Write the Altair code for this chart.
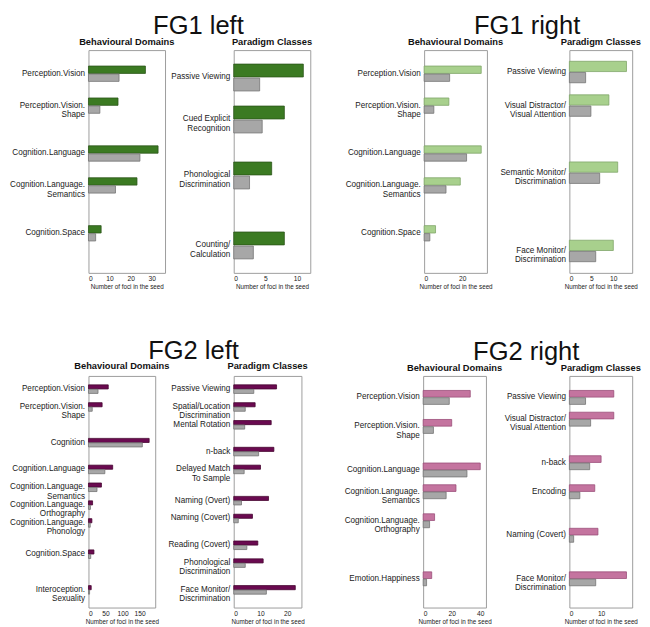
import altair as alt
import pandas as pd

FONT = "Liberation Sans"
AXIS_TITLE = "Number of foci in the seed"
GRAY_FILL = "#a7a7a7"
GRAY_STROKE = "#737373"

# ---------------- FG1 left ----------------
fg1l_bd_cats = ["Perception.Vision", "Perception.Vision.\nShape", "Cognition.Language",
                "Cognition.Language.\nSemantics", "Cognition.Space"]
fg1l_bd_obs = [27, 14, 33, 23, 6]
fg1l_bd_exp = [14.5, 5.4, 24.4, 12.8, 3.4]
fg1l_bd_ticks = [0, 10, 20, 30]

fg1l_pc_cats = ["Passive Viewing", "Cued Explicit\nRecognition", "Phonological\nDiscrimination",
                "Counting/\nCalculation"]
fg1l_pc_obs = [11, 8, 6, 8]
fg1l_pc_exp = [4.1, 4.5, 2.5, 3.1]
fg1l_pc_ticks = [0, 5, 10]

# ---------------- FG1 right ----------------
fg1r_bd_cats = ["Perception.Vision", "Perception.Vision.\nShape", "Cognition.Language",
                "Cognition.Language.\nSemantics", "Cognition.Space"]
fg1r_bd_obs = [30, 13, 30, 19, 6]
fg1r_bd_exp = [13.4, 5.1, 22.3, 11.5, 3.0]
fg1r_bd_ticks = [0, 20]

fg1r_pc_cats = ["Passive Viewing", "Visual Distractor/\nVisual Attention",
                "Semantic Monitor/\nDiscrimination", "Face Monitor/\nDiscrimination"]
fg1r_pc_obs = [13, 9, 11, 10]
fg1r_pc_exp = [3.7, 4.9, 6.9, 6.0]
fg1r_pc_ticks = [0, 5, 10]

# ---------------- FG2 left ----------------
fg2l_bd_cats = ["Perception.Vision", "Perception.Vision.\nShape", "Cognition", "Cognition.Language",
                "Cognition.Language.\nSemantics", "Cognition.Language.\nOrthography",
                "Cognition.Language.\nPhonology", "Cognition.Space", "Interoception.\nSexuality"]
fg2l_bd_obs = [58, 40, 178, 71, 38, 12, 10, 16, 8]
fg2l_bd_exp = [28, 11, 158, 48, 25, 5.7, 5.2, 6.6, 3.2]
fg2l_bd_ticks = [0, 50, 100, 150]

fg2l_pc_cats = ["Passive Viewing", "Spatial/Location\nDiscrimination", "Mental Rotation", "n-back",
                "Delayed Match\nTo Sample", "Naming (Overt)", "Naming (Covert)", "Reading (Covert)",
                "Phonological\nDiscrimination", "Face Monitor/\nDiscrimination"]
fg2l_pc_obs = [16, 8, 14, 15, 10, 13, 7, 9, 11, 23]
fg2l_pc_exp = [7.5, 4.3, 4.1, 9.3, 3.9, 2.9, 1.7, 4.9, 4.3, 12.2]
fg2l_pc_ticks = [0, 10, 20]

# ---------------- FG2 right ----------------
fg2r_bd_cats = ["Perception.Vision", "Perception.Vision.\nShape", "Cognition.Language",
                "Cognition.Language.\nSemantics", "Cognition.Language.\nOrthography",
                "Emotion.Happiness"]
fg2r_bd_obs = [33, 20, 40, 23, 8, 6]
fg2r_bd_exp = [18.3, 7.2, 30.7, 16.1, 4.5, 2.4]
fg2r_bd_ticks = [0, 20, 40]

fg2r_pc_cats = ["Passive Viewing", "Visual Distractor/\nVisual Attention", "n-back", "Encoding",
                "Naming (Covert)", "Face Monitor/\nDiscrimination"]
fg2r_pc_obs = [14, 14, 10, 8, 9, 18]
fg2r_pc_exp = [5.1, 6.7, 6.4, 3.3, 1.35, 8.3]
fg2r_pc_ticks = [0, 10]

# layout: number of bar slots per panel and the slot boundary at which each pair is centred
LAYOUT = {
    "fg1l_bd": (28, [3, 7, 13, 17, 23]),
    "fg1l_pc": (16, [2, 5, 9, 14]),
    "fg1r_bd": (28, [3, 7, 13, 17, 23]),
    "fg1r_pc": (20, [2, 5, 11, 18]),
    "fg2l_bd": (52, [3, 7, 15, 21, 25, 29, 33, 40, 48]),
    "fg2l_pc": (52, [3, 7, 11, 17, 21, 28, 32, 38, 42, 48]),
    "fg2r_bd": (32, [3, 7, 13, 16, 20, 28]),
    "fg2r_pc": (32, [3, 6, 12, 16, 22, 28]),
}


def panel(key, cats, obs, exp, ticks, title, color, stroke, width, height):
    n = len(cats)
    df = pd.DataFrame({
        "cat": cats + cats,
        "series": ["Observed"] * n + ["Expected"] * n,
        "value": obs + exp,
    })
    nslots, bounds = LAYOUT[key]
    dom = [f"~gap{i}" for i in range(nslots)]
    for c, b in zip(cats, bounds):
        dom[b - 1] = c
        dom[b] = c + "~g"
    step = height / nslots
    xmax = max(obs) * 1.1
    return alt.Chart(df).transform_calculate(
        row="datum.series === 'Observed' ? datum.cat : datum.cat + '~g'"
    ).mark_bar(strokeWidth=0.8).encode(
        x=alt.X("value:Q",
                scale=alt.Scale(domain=[0, xmax], nice=False, zero=True),
                axis=alt.Axis(values=ticks, title=AXIS_TITLE, grid=False, ticks=False, domain=False,
                              labelFontSize=6.8, labelPadding=3, titleFontSize=6.4,
                              titleFontWeight="normal", titlePadding=1)),
        y=alt.Y("row:N", sort=None,
                scale=alt.Scale(domain=dom, paddingInner=0.08, paddingOuter=0),
                axis=alt.Axis(title=None, ticks=False, domain=False, grid=False,
                              labelExpr="indexof(datum.value, '~') >= 0 ? '' : split(datum.value, '\\n')",
                              labelOffset=step / 2, labelPadding=4, labelFontSize=8.3,
                              labelLineHeight=9.5, labelLimit=0)),
        color=alt.Color("series:N", scale=alt.Scale(domain=["Observed", "Expected"],
                                                    range=[color, GRAY_FILL]), legend=None),
        stroke=alt.Stroke("series:N", scale=alt.Scale(domain=["Observed", "Expected"],
                                                      range=[stroke, GRAY_STROKE]), legend=None),
    ).properties(width=width, height=height,
                 title=alt.TitleParams(title, fontSize=9.5, fontWeight="bold", offset=4))


def group(bd, pc, title, spacing, dx):
    return alt.hconcat(bd, pc, spacing=spacing,
                       title=alt.TitleParams(title, fontSize=26, fontWeight="normal",
                                             anchor="middle", frame="group", offset=-3, dx=dx)
                       ).resolve_scale(x="independent", y="independent",
                                       color="independent", stroke="independent")


BD = "Behavioural Domains"
PC = "Paradigm Classes"
H1 = 227
H2 = 236

g1 = group(
    panel("fg1l_bd", fg1l_bd_cats, fg1l_bd_obs, fg1l_bd_exp, fg1l_bd_ticks, BD, "#3b7a22", "#2a5518", 78, H1),
    panel("fg1l_pc", fg1l_pc_cats, fg1l_pc_obs, fg1l_pc_exp, fg1l_pc_ticks, PC, "#3b7a22", "#2a5518", 78, H1),
    "FG1 left", -6, 112)
g2 = group(
    panel("fg1r_bd", fg1r_bd_cats, fg1r_bd_obs, fg1r_bd_exp, fg1r_bd_ticks, BD, "#a8d08d", "#7fa468", 64, H1),
    panel("fg1r_pc", fg1r_pc_cats, fg1r_pc_obs, fg1r_pc_exp, fg1r_pc_ticks, PC, "#a8d08d", "#7fa468", 64, H1),
    "FG1 right", -6, 105)
g3 = group(
    panel("fg2l_bd", fg2l_bd_cats, fg2l_bd_obs, fg2l_bd_exp, fg2l_bd_ticks, BD, "#6a0a50", "#45052f", 68, H2),
    panel("fg2l_pc", fg2l_pc_cats, fg2l_pc_obs, fg2l_pc_exp, fg2l_pc_ticks, PC, "#6a0a50", "#45052f", 69, H2),
    "FG2 left", -4, 107)
g4 = group(
    panel("fg2r_bd", fg2r_bd_cats, fg2r_bd_obs, fg2r_bd_exp, fg2r_bd_ticks, BD, "#c4749f", "#9a4d78", 64, H2),
    panel("fg2r_pc", fg2r_pc_cats, fg2r_pc_obs, fg2r_pc_exp, fg2r_pc_ticks, PC, "#c4749f", "#9a4d78", 64, H2),
    "FG2 right", -1, 105)

row1 = alt.hconcat(g1, g2, spacing=31).resolve_scale(x="independent", y="independent",
                                                      color="independent", stroke="independent")
row2 = alt.hconcat(g3, g4, spacing=35).resolve_scale(x="independent", y="independent",
                                                      color="independent", stroke="independent")

chart = alt.vconcat(row1, row2, spacing=48).resolve_scale(
    x="independent", y="independent", color="independent", stroke="independent"
).properties(padding=0).configure(
    font=FONT, background="white"
).configure_view(
    stroke="#9c9c9c", strokeWidth=1
).configure_axis(
    labelFont=FONT, titleFont=FONT, labelColor="#1a1a1a", titleColor="#1a1a1a"
).configure_title(
    font=FONT, color="#111111"
)

chart.save("out.html", embed_options={"renderer": "svg", "actions": False})
